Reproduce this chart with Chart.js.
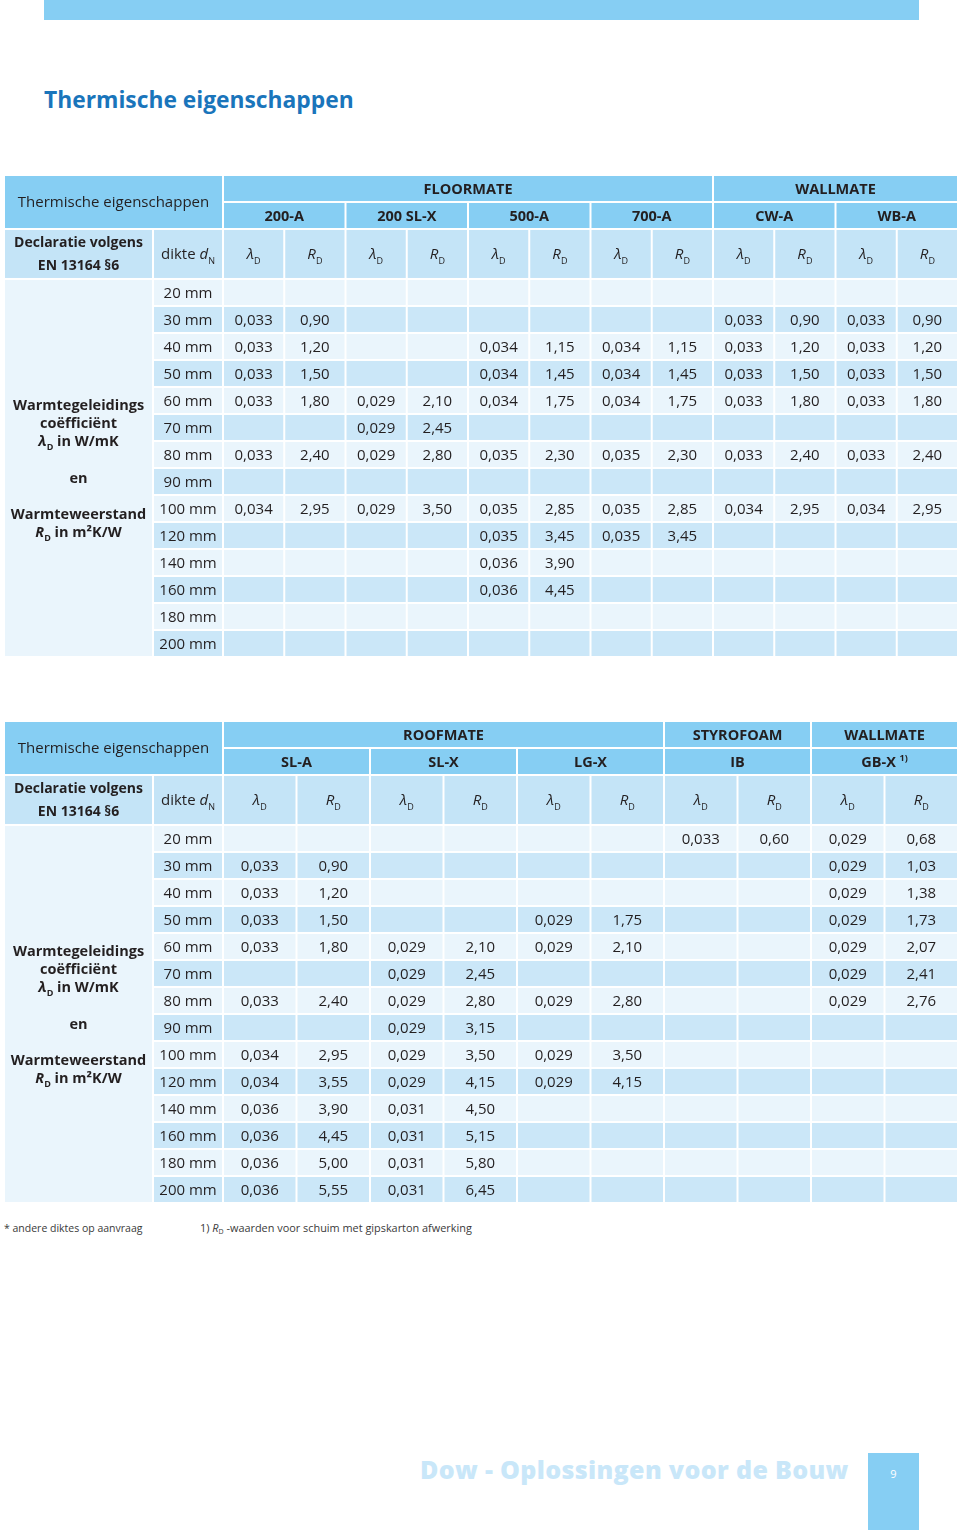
<!DOCTYPE html>
<html>
<head>
<meta charset="utf-8">
<script src="https://cdn.jsdelivr.net/npm/chart.js@4.4.0/dist/chart.umd.min.js"></script>
<style>
  body { margin: 0; width: 960px; height: 1530px; position: relative; background: #fff; overflow: hidden;
         font-family: 'Open Sans', sans-serif; color: #231f20; }
  .topbar { position: absolute; left: 44px; top: 0; width: 875px; height: 20px; background: #86cef3; }
  h1 { position: absolute; left: 44px; top: 88px; margin: 0; font-size: 22.8px; line-height: 23px; font-weight: 700; color: #1a75bb; }
  canvas { position: absolute; left: 4px; }
  #tabel1 { top: 175px; }
  #tabel2 { top: 721px; }
  .note { position: absolute; top: 1221px; font-size: 10.5px; line-height: 14px; color: #3a3a3a; }
  .note sub { font-size: 7px; vertical-align: -2px; }
  .footer { position: absolute; left: 420px; top: 1455px; font-size: 25px; line-height: 28px; font-weight: 800;
            letter-spacing: 0.35px; color: #c9e7f9; white-space: nowrap; }
  .pagenr { position: absolute; left: 868px; top: 1453px; width: 51px; height: 77px; background: #86cef3;
            color: #fff; font-size: 11px; text-align: center; line-height: 42px; }
</style>
</head>
<body>
<div class="topbar"></div>
<h1>Thermische eigenschappen</h1>
<canvas id="tabel1" width="954" height="482"></canvas>
<canvas id="tabel2" width="954" height="482"></canvas>
<div class="note" style="left:4px">* andere diktes op aanvraag</div>
<div class="note" style="left:200px;font-size:10.9px">1) <i>R</i><sub>D</sub> -waarden voor schuim met gipskarton afwerking</div>
<div class="footer">Dow - Oplossingen voor de Bouw</div>
<div class="pagenr">9</div>

<script>
// diktes (rijen)
var thicknesses = ['20 mm', '30 mm', '40 mm', '50 mm', '60 mm', '70 mm', '80 mm', '90 mm',
                   '100 mm', '120 mm', '140 mm', '160 mm', '180 mm', '200 mm'];

// tabel 1: FLOORMATE / WALLMATE
var t1Groups = ['FLOORMATE', 'WALLMATE'];
var t1GroupSize = [4, 2];
var t1Products = ['200-A', '200 SL-X', '500-A', '700-A', 'CW-A', 'WB-A'];
var lambda200A   = [null, 0.033, 0.033, 0.033, 0.033, null, 0.033, null, 0.034, null, null, null, null, null];
var rd200A       = [null, 0.90, 1.20, 1.50, 1.80, null, 2.40, null, 2.95, null, null, null, null, null];
var lambda200SLX = [null, null, null, null, 0.029, 0.029, 0.029, null, 0.029, null, null, null, null, null];
var rd200SLX     = [null, null, null, null, 2.10, 2.45, 2.80, null, 3.50, null, null, null, null, null];
var lambda500A   = [null, null, 0.034, 0.034, 0.034, null, 0.035, null, 0.035, 0.035, 0.036, 0.036, null, null];
var rd500A       = [null, null, 1.15, 1.45, 1.75, null, 2.30, null, 2.85, 3.45, 3.90, 4.45, null, null];
var lambda700A   = [null, null, 0.034, 0.034, 0.034, null, 0.035, null, 0.035, 0.035, null, null, null, null];
var rd700A       = [null, null, 1.15, 1.45, 1.75, null, 2.30, null, 2.85, 3.45, null, null, null, null];
var lambdaCWA    = [null, 0.033, 0.033, 0.033, 0.033, null, 0.033, null, 0.034, null, null, null, null, null];
var rdCWA        = [null, 0.90, 1.20, 1.50, 1.80, null, 2.40, null, 2.95, null, null, null, null, null];
var lambdaWBA    = [null, 0.033, 0.033, 0.033, 0.033, null, 0.033, null, 0.034, null, null, null, null, null];
var rdWBA        = [null, 0.90, 1.20, 1.50, 1.80, null, 2.40, null, 2.95, null, null, null, null, null];

// tabel 2: ROOFMATE / STYROFOAM / WALLMATE
var t2Groups = ['ROOFMATE', 'STYROFOAM', 'WALLMATE'];
var t2GroupSize = [3, 1, 1];
var t2Products = ['SL-A', 'SL-X', 'LG-X', 'IB', 'GB-X'];
var lambdaSLA = [null, 0.033, 0.033, 0.033, 0.033, null, 0.033, null, 0.034, 0.034, 0.036, 0.036, 0.036, 0.036];
var rdSLA     = [null, 0.90, 1.20, 1.50, 1.80, null, 2.40, null, 2.95, 3.55, 3.90, 4.45, 5.00, 5.55];
var lambdaSLX = [null, null, null, null, 0.029, 0.029, 0.029, 0.029, 0.029, 0.029, 0.031, 0.031, 0.031, 0.031];
var rdSLX     = [null, null, null, null, 2.10, 2.45, 2.80, 3.15, 3.50, 4.15, 4.50, 5.15, 5.80, 6.45];
var lambdaLGX = [null, null, null, 0.029, 0.029, null, 0.029, null, 0.029, 0.029, null, null, null, null];
var rdLGX     = [null, null, null, 1.75, 2.10, null, 2.80, null, 3.50, 4.15, null, null, null, null];
var lambdaIB  = [0.033, null, null, null, null, null, null, null, null, null, null, null, null, null];
var rdIB      = [0.60, null, null, null, null, null, null, null, null, null, null, null, null, null];
var lambdaGBX = [0.029, 0.029, 0.029, 0.029, 0.029, 0.029, 0.029, null, null, null, null, null, null, null];
var rdGBX     = [0.68, 1.03, 1.38, 1.73, 2.07, 2.41, 2.76, null, null, null, null, null, null, null];

var HEADER_BLUE = '#86cef3';
var DECL_BLUE = '#c4e4f7';
var ROW_LIGHT = '#eaf5fc';
var ROW_DARK = '#cbe7f8';
var TEXT = '#231f20';
var FONT = "'Open Sans', sans-serif";
var DATA_TOP = 3.85; // kopregels: 1 + 1 + 1.85

function fmt(v, dec) {
    return v.toFixed(dec).replace('.', ',');
}

// tekst met cursief / subscript / superscript stukken
function drawRich(ctx, segs, cx, cy, size, weight) {
    var fontOf = function (s) {
        var sz = (s.sub || s.sup) ? Math.round(size * 0.62) : size;
        return (s.it ? 'italic ' : '') + weight + ' ' + sz + 'px ' + FONT;
    };
    var widths = [], total = 0;
    segs.forEach(function (s) {
        ctx.font = fontOf(s);
        var w = ctx.measureText(s.t).width;
        widths.push(w);
        total += w;
    });
    var x = cx - total / 2;
    var base = cy + size * 0.36;
    ctx.fillStyle = TEXT;
    ctx.textAlign = 'left';
    ctx.textBaseline = 'alphabetic';
    segs.forEach(function (s, i) {
        ctx.font = fontOf(s);
        var dy = s.sub ? size * 0.28 : (s.sup ? -size * 0.4 : 0);
        ctx.fillText(s.t, x, base + dy);
        x += widths[i];
    });
}

function makeTablePlugin(spec, edges) {
    return {
        id: 'tabel',
        beforeDatasetsDraw: function (chart) {
            var ctx = chart.ctx, xs = chart.scales.x, ys = chart.scales.y;
            var cell = function (x0, x1, y0, y1, color) {
                var px0 = xs.getPixelForValue(x0), px1 = xs.getPixelForValue(x1);
                var py0 = ys.getPixelForValue(y0), py1 = ys.getPixelForValue(y1);
                ctx.fillStyle = color;
                ctx.fillRect(px0 + 1, py0 + 1, px1 - px0 - 2, py1 - py0 - 2);
            };
            var nRows = thicknesses.length;
            // linker kop
            cell(edges[0], edges[2], 0, 2, HEADER_BLUE);
            cell(edges[0], edges[1], 2, DATA_TOP, DECL_BLUE);
            cell(edges[1], edges[2], 2, DATA_TOP, DECL_BLUE);
            cell(edges[0], edges[1], DATA_TOP, DATA_TOP + nRows, ROW_LIGHT);
            // groepen en producten
            var col = 0;
            spec.groups.forEach(function (g, gi) {
                var n = spec.groupSize[gi] * 2;
                cell(edges[2 + col], edges[2 + col + n], 0, 1, HEADER_BLUE);
                col += n;
            });
            spec.products.forEach(function (p, pi) {
                cell(edges[2 + pi * 2], edges[4 + pi * 2], 1, 2, HEADER_BLUE);
                cell(edges[2 + pi * 2], edges[3 + pi * 2], 2, DATA_TOP, DECL_BLUE);
                cell(edges[3 + pi * 2], edges[4 + pi * 2], 2, DATA_TOP, DECL_BLUE);
            });
            // datarijen
            for (var r = 0; r < nRows; r++) {
                var c = r % 2 === 0 ? ROW_LIGHT : ROW_DARK;
                for (var k = 1; k < edges.length - 1; k++) {
                    cell(edges[k], edges[k + 1], DATA_TOP + r, DATA_TOP + r + 1, c);
                }
            }

            // koptekst
            var cxOf = function (a, b) { return (xs.getPixelForValue(a) + xs.getPixelForValue(b)) / 2; };
            var cyOf = function (a, b) { return (ys.getPixelForValue(a) + ys.getPixelForValue(b)) / 2; };
            drawRich(ctx, [{ t: 'Thermische eigenschappen' }], cxOf(edges[0], edges[2]), cyOf(0, 2), 15, 400);
            col = 0;
            spec.groups.forEach(function (g, gi) {
                var n = spec.groupSize[gi] * 2;
                drawRich(ctx, [{ t: g }], cxOf(edges[2 + col], edges[2 + col + n]), cyOf(0, 1), 14.5, 700);
                col += n;
            });
            spec.products.forEach(function (p, pi) {
                var segs = [{ t: p }];
                if (spec.productNote && spec.productNote[pi]) segs.push({ t: ' ' }, { t: spec.productNote[pi], sup: true });
                var cx = cxOf(edges[2 + pi * 2], edges[4 + pi * 2]);
                drawRich(ctx, segs, cx, cyOf(1, 2), 14.5, 700);
                drawRich(ctx, [{ t: 'λ', it: true }, { t: 'D', sub: true }], cxOf(edges[2 + pi * 2], edges[3 + pi * 2]), cyOf(2, DATA_TOP), 15, 400);
                drawRich(ctx, [{ t: 'R', it: true }, { t: 'D', sub: true }], cxOf(edges[3 + pi * 2], edges[4 + pi * 2]), cyOf(2, DATA_TOP), 15, 400);
            });
            var dcy = cyOf(2, DATA_TOP), lcx = cxOf(edges[0], edges[1]);
            drawRich(ctx, [{ t: 'Declaratie volgens' }], lcx, dcy - 12, 14, 700);
            drawRich(ctx, [{ t: 'EN 13164 §6' }], lcx, dcy + 11, 14, 700);
            drawRich(ctx, [{ t: 'dikte ' }, { t: 'd', it: true }, { t: 'N', sub: true }], cxOf(edges[1], edges[2]), dcy, 15, 400);

            // linker omschrijving
            var mid = cyOf(DATA_TOP, DATA_TOP + nRows);
            var lines = [
                [-63, [{ t: 'Warmtegeleidings' }]],
                [-45, [{ t: 'coëfficiënt' }]],
                [-27, [{ t: 'λ', it: true }, { t: 'D', sub: true }, { t: ' in W/mK' }]],
                [10, [{ t: 'en' }]],
                [46, [{ t: 'Warmteweerstand' }]],
                [64, [{ t: 'R', it: true }, { t: 'D', sub: true }, { t: ' in m²K/W' }]]
            ];
            lines.forEach(function (l) { drawRich(ctx, l[1], lcx, mid + l[0], 14.5, 700); });
        },
        afterDatasetsDraw: function (chart) {
            var ctx = chart.ctx;
            chart.data.datasets.forEach(function (ds, di) {
                chart.getDatasetMeta(di).data.forEach(function (el, i) {
                    drawRich(ctx, [{ t: ds.data[i].label }], el.x, el.y, 15, 400);
                });
            });
        }
    };
}

function buildTable(canvasId, spec) {
    var edges = [0, spec.labelW, spec.labelW + spec.dikteW];
    for (var k = 1; k <= spec.products.length * 2; k++) edges.push(spec.labelW + spec.dikteW + k * spec.colW);

    var values = [];
    spec.products.forEach(function (p, pi) {
        var xl = (edges[2 + pi * 2] + edges[3 + pi * 2]) / 2;
        var xr = (edges[3 + pi * 2] + edges[4 + pi * 2]) / 2;
        spec.lambda[pi].forEach(function (v, r) {
            if (v !== null) values.push({ x: xl, y: DATA_TOP + r + 0.5, label: fmt(v, 3) });
        });
        spec.rd[pi].forEach(function (v, r) {
            if (v !== null) values.push({ x: xr, y: DATA_TOP + r + 0.5, label: fmt(v, 2) });
        });
    });
    var rows = thicknesses.map(function (t, r) {
        return { x: (edges[1] + edges[2]) / 2, y: DATA_TOP + r + 0.5, label: t };
    });

    new Chart(document.getElementById(canvasId), {
        type: 'scatter',
        data: {
            datasets: [
                { label: 'dikte', data: rows, pointRadius: 0 },
                { label: 'waarden', data: values, pointRadius: 0 }
            ]
        },
        options: {
            responsive: false,
            animation: false,
            events: [],
            layout: { padding: 0 },
            plugins: { legend: { display: false }, tooltip: { enabled: false } },
            scales: {
                x: { type: 'linear', display: false, min: 0, max: edges[edges.length - 1] },
                y: { type: 'linear', display: false, reverse: true, min: 0, max: DATA_TOP + thicknesses.length }
            }
        },
        plugins: [makeTablePlugin(spec, edges)]
    });
}

buildTable('tabel1', {
    groups: t1Groups, groupSize: t1GroupSize, products: t1Products,
    lambda: [lambda200A, lambda200SLX, lambda500A, lambda700A, lambdaCWA, lambdaWBA],
    rd: [rd200A, rd200SLX, rd500A, rd700A, rdCWA, rdWBA],
    labelW: 149, dikteW: 70, colW: 61.25
});

buildTable('tabel2', {
    groups: t2Groups, groupSize: t2GroupSize, products: t2Products,
    productNote: [null, null, null, null, '1)'],
    lambda: [lambdaSLA, lambdaSLX, lambdaLGX, lambdaIB, lambdaGBX],
    rd: [rdSLA, rdSLX, rdLGX, rdIB, rdGBX],
    labelW: 149, dikteW: 70, colW: 73.5
});
</script>
</body>
</html>
